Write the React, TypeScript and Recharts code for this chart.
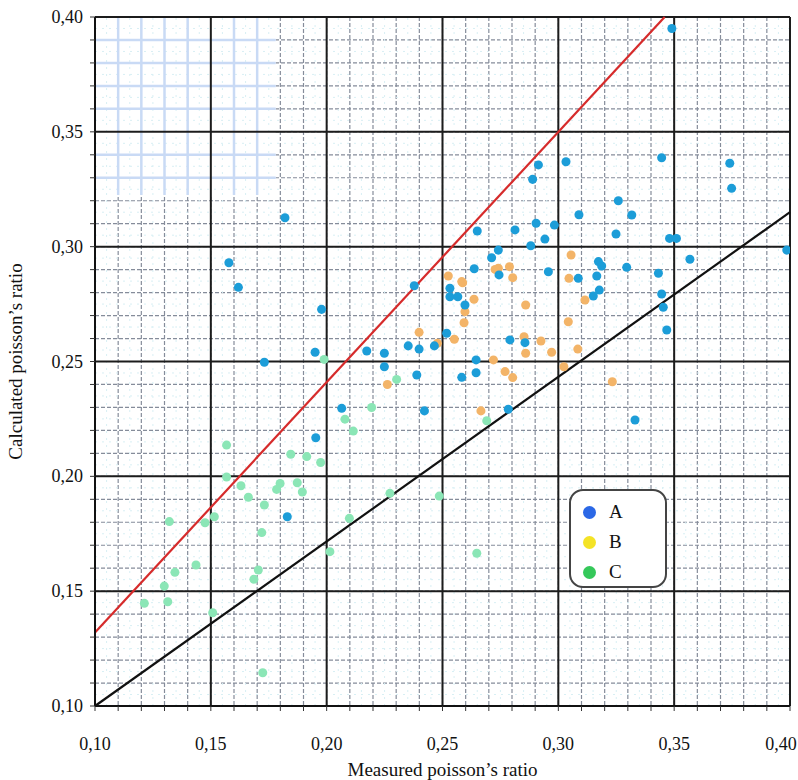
import React from 'react'
import {
  ScatterChart,
  Scatter,
  XAxis,
  YAxis,
  CartesianGrid,
  ReferenceLine,
  ReferenceArea,
} from 'recharts'

// group A (blue)
const aX = [
  0.349, 0.3446, 0.374, 0.3748, 0.3259, 0.3317, 0.348, 0.351, 0.3986, 0.3568,
  0.3295, 0.3432, 0.3446, 0.3453, 0.3468, 0.2914, 0.3033, 0.2889, 0.3089, 0.265,
  0.2813, 0.2904, 0.2983, 0.2942, 0.3249, 0.2881, 0.2741, 0.2712, 0.2637, 0.2957,
  0.2744, 0.3173, 0.3187, 0.3086, 0.3166, 0.3177, 0.3151, 0.2597, 0.2532, 0.2532,
  0.2566, 0.2791, 0.2856, 0.2645, 0.2645, 0.2583, 0.2784, 0.3331, 0.2378, 0.2518,
  0.2173, 0.2249, 0.2352, 0.2399, 0.2465, 0.2249, 0.2389, 0.2065, 0.2422, 0.182,
  0.1578, 0.1619, 0.1978, 0.1731, 0.195, 0.1953, 0.183,
]
const aY = [
  0.395, 0.3387, 0.3363, 0.3254, 0.32, 0.3138, 0.3036, 0.3036, 0.2985, 0.2945,
  0.291, 0.2884, 0.2794, 0.2736, 0.2637, 0.3356, 0.337, 0.3293, 0.3139, 0.3068,
  0.3073, 0.3102, 0.3094, 0.3033, 0.3055, 0.3004, 0.2985, 0.2952, 0.2904, 0.2891,
  0.2877, 0.2935, 0.2916, 0.2862, 0.2872, 0.2811, 0.2785, 0.2746, 0.2819, 0.2782,
  0.2782, 0.2594, 0.2582, 0.2507, 0.2451, 0.2431, 0.2292, 0.2245, 0.283, 0.2623,
  0.2546, 0.2536, 0.2568, 0.2554, 0.2568, 0.2477, 0.2441, 0.2296, 0.2285, 0.3126,
  0.293, 0.2823, 0.2727, 0.2497, 0.254, 0.2168, 0.1824,
]

// group B (orange)
const bX = [
  0.3055, 0.2741, 0.2789, 0.2803, 0.2587, 0.2636, 0.2597, 0.2593, 0.2859, 0.3046,
  0.3115, 0.3043, 0.2852, 0.2859, 0.2925, 0.2971, 0.3084, 0.3024, 0.272, 0.277,
  0.2803, 0.3233, 0.2666, 0.2525, 0.2583, 0.2399, 0.2478, 0.2551, 0.2727, 0.2262,
]
const bY = [
  0.2964, 0.2906, 0.2913, 0.2865, 0.2843, 0.2771, 0.2717, 0.2669, 0.2746, 0.2862,
  0.2768, 0.2673, 0.2608, 0.2536, 0.2589, 0.254, 0.2554, 0.2477, 0.2507, 0.2456,
  0.243, 0.2412, 0.2285, 0.2872, 0.2848, 0.2627, 0.2579, 0.2597, 0.2901, 0.24,
]

// group C (green)
const cX = [
  0.1568, 0.1845, 0.1914, 0.1974, 0.2079, 0.2115, 0.2194, 0.2691, 0.163, 0.1662,
  0.1731, 0.1799, 0.1784, 0.1873, 0.1895, 0.1321, 0.1475, 0.1515, 0.172, 0.2098,
  0.1436, 0.1345, 0.1299, 0.1314, 0.1213, 0.1705, 0.1686, 0.1508, 0.2014, 0.2273,
  0.2486, 0.2648, 0.1724, 0.1989, 0.2302, 0.1568,
]
const cY = [
  0.2136, 0.2096, 0.2086, 0.206, 0.2249, 0.2197, 0.23, 0.2242, 0.1959, 0.1909,
  0.1875, 0.1969, 0.1943, 0.1972, 0.1932, 0.1803, 0.1798, 0.1824, 0.1755, 0.1817,
  0.1614, 0.1582, 0.1522, 0.1454, 0.1447, 0.1592, 0.1552, 0.1406, 0.1672, 0.1926,
  0.1914, 0.1665, 0.1145, 0.2509, 0.2422, 0.1997,
]

const majorTicks = [0.1, 0.15, 0.2, 0.25, 0.3, 0.35, 0.4]
const minorTicks = Array.from({ length: 31 }, (_, i) => +(0.1 + i * 0.01).toFixed(2))
const halfTicks = Array.from({ length: 30 }, (_, i) => +(0.105 + i * 0.01).toFixed(3))

// the pale blue grid patch in the top left corner
const patchX = [0.11, 0.12, 0.13, 0.14, 0.16, 0.17]
const patchY = [0.39, 0.38, 0.37, 0.36, 0.34, 0.33]

// fit lines
const redLine = [
  { x: 0.1, y: 0.132 },
  { x: 0.3459, y: 0.4 },
]
const blackLine = [
  { x: 0.1, y: 0.1 },
  { x: 0.4, y: 0.315 },
]

const toPoints = (xs: number[], ys: number[]) => xs.map((x, i) => ({ x, y: ys[i] }))

const FONT = 'Liberation Serif, Times New Roman, serif'
const fmt = (v: number) => v.toFixed(2).replace('.', ',')
const isMajor = (v: number) => majorTicks.some((m) => Math.abs(m - v) < 1e-6)

const XTick = ({ x, y, payload }: any) => {
  if (!isMajor(payload.value)) return <g />
  const last = Math.abs(payload.value - 0.4) < 1e-6
  return (
    <text
      x={last ? x - 9 : x}
      y={y}
      dy={37}
      textAnchor="middle"
      fontSize={18}
      fontFamily={FONT}
      fill="#111"
    >
      {fmt(payload.value)}
    </text>
  )
}

const YTick = ({ x, y, payload }: any) => {
  if (!isMajor(payload.value)) return <g />
  return (
    <text x={x - 5} y={y} dy={6} textAnchor="end" fontSize={18} fontFamily={FONT} fill="#111">
      {fmt(payload.value)}
    </text>
  )
}

const LEGEND = [
  { name: 'A', color: '#2b68e6' },
  { name: 'B', color: '#f4e326' },
  { name: 'C', color: '#35c85a' },
]

export default function App() {
  return (
    <div style={{ position: 'absolute', left: 0, top: 0, width: 798, height: 780, background: '#fff' }}>
      <ScatterChart width={798} height={780} margin={{ top: 17, right: 8, bottom: 0, left: 0 }}>
        <CartesianGrid stroke="#858c9a" strokeDasharray="4 2" strokeWidth={1.2} />
        <XAxis
          type="number"
          dataKey="x"
          domain={[0.1, 0.4]}
          ticks={minorTicks}
          interval={0}
          height={74}
          tickSize={5}
          tick={<XTick />}
          axisLine={{ stroke: '#111', strokeWidth: 2 }}
          tickLine={{ stroke: '#333' }}
          allowDataOverflow
          label={({ viewBox }: any) => (
            <text
              x={viewBox.x + viewBox.width / 2}
              y={viewBox.y + 70}
              textAnchor="middle"
              fontSize={19}
              fontFamily={FONT}
              fill="#111"
            >
              Measured poisson’s ratio
            </text>
          )}
        />
        <YAxis
          type="number"
          dataKey="y"
          domain={[0.1, 0.4]}
          ticks={minorTicks}
          interval={0}
          width={95}
          tickSize={5}
          tick={<YTick />}
          axisLine={{ stroke: '#111', strokeWidth: 2 }}
          tickLine={{ stroke: '#333' }}
          allowDataOverflow
          label={({ viewBox }: any) => {
            const cx = viewBox.x + 18
            const cy = viewBox.y + viewBox.height / 2
            return (
              <text
                x={cx}
                y={cy}
                transform={`rotate(-90 ${cx} ${cy})`}
                textAnchor="middle"
                dominantBaseline="middle"
                fontSize={19}
                fontFamily={FONT}
                fill="#111"
              >
                Calculated poisson’s ratio
              </text>
            )
          }}
        />

        {halfTicks.map((v) => (
          <ReferenceLine key={`hx${v}`} x={v} stroke="#d8eff4" strokeDasharray="2 5" />
        ))}
        {halfTicks.map((v) => (
          <ReferenceLine key={`hy${v}`} y={v} stroke="#d8eff4" strokeDasharray="2 5" />
        ))}

        <ReferenceArea x1={0.1} x2={0.178} y1={0.3225} y2={0.4} fill="#fff" fillOpacity={1} stroke="none" />
        {patchX.map((v) => (
          <ReferenceLine
            key={`px${v}`}
            segment={[{ x: v, y: 0.3225 }, { x: v, y: 0.4 }]}
            stroke="#c9daf5"
            strokeWidth={2.5}
          />
        ))}
        {patchY.map((v) => (
          <ReferenceLine
            key={`py${v}`}
            segment={[{ x: 0.1, y: v }, { x: 0.178, y: v }]}
            stroke="#c9daf5"
            strokeWidth={2.5}
          />
        ))}

        {majorTicks.map((v) => (
          <ReferenceLine key={`mx${v}`} x={v} stroke="#1c1c1c" strokeWidth={2} />
        ))}
        {majorTicks.map((v) => (
          <ReferenceLine key={`my${v}`} y={v} stroke="#1c1c1c" strokeWidth={2} />
        ))}

        <ReferenceLine segment={blackLine} stroke="#111" strokeWidth={2.2} />
        <ReferenceLine segment={redLine} stroke="#d62b2b" strokeWidth={2.2} />

        <Scatter name="C" data={toPoints(cX, cY)} fill="#8be6b6" isAnimationActive={false} />
        <Scatter name="B" data={toPoints(bX, bY)} fill="#f3b468" isAnimationActive={false} />
        <Scatter name="A" data={toPoints(aX, aY)} fill="#1c9dd8" isAnimationActive={false} />
      </ScatterChart>

      {/* Legend */}
      <div
        style={{
          position: 'absolute',
          left: 569,
          top: 489,
          width: 94,
          height: 95,
          border: '2px solid #444',
          borderRadius: 14,
          background: '#fff',
          fontFamily: FONT,
          fontSize: 19,
          color: '#111',
          boxSizing: 'content-box',
        }}
      >
        {LEGEND.map((item, i) => (
          <div
            key={item.name}
            style={{ position: 'absolute', left: 12, top: 10 + i * 30, display: 'flex', alignItems: 'center' }}
          >
            <span
              style={{
                display: 'inline-block',
                width: 13,
                height: 13,
                borderRadius: '50%',
                background: item.color,
                marginRight: 13,
              }}
            />
            <span>{item.name}</span>
          </div>
        ))}
      </div>
    </div>
  )
}
